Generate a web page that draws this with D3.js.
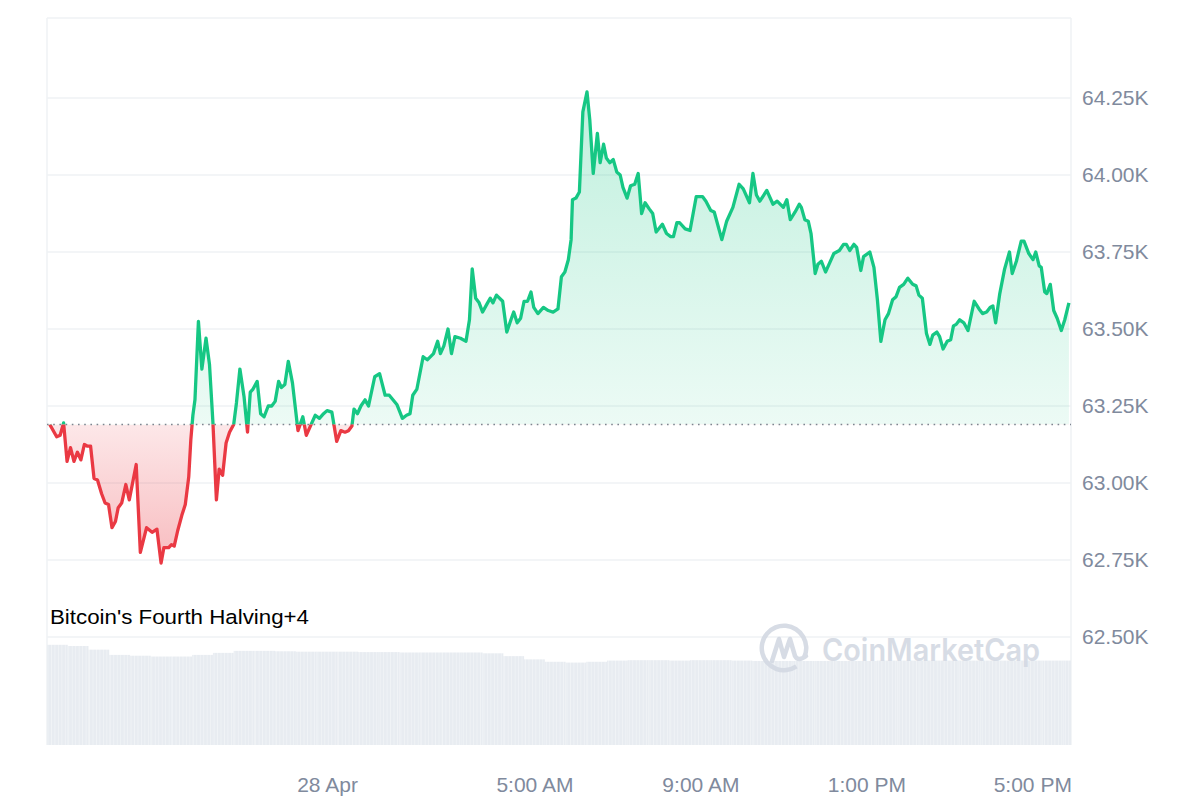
<!DOCTYPE html>
<html>
<head>
<meta charset="utf-8">
<script src="https://cdn.jsdelivr.net/npm/d3@7"></script>
<style>
  html, body { margin: 0; padding: 0; background: #fff; }
  svg { display: block; }
</style>
</head>
<body>
<svg id="chart" width="1200" height="800"></svg>
<script>
// ---------------- DATA ----------------
const times = [
  "27 17:19","27 17:29","27 17:34","27 17:39","27 17:44","27 17:49","27 17:54","27 17:59","27 18:04","27 18:09",
  "27 18:13","27 18:18","27 18:23","27 18:28","27 18:34","27 18:39","27 18:44","27 18:49","27 18:54","27 18:58",
  "27 19:03","27 19:09","27 19:14","27 19:24","27 19:30","27 19:39","27 19:47","27 19:54","27 20:00","27 20:04",
  "27 20:11","27 20:15","27 20:19","27 20:24","27 20:30","27 20:35","27 20:40","27 20:43","27 20:46","27 20:49",
  "27 20:54","27 20:59","27 21:05","27 21:10","27 21:15","27 21:20","27 21:24","27 21:29","27 21:34","27 21:39",
  "27 21:45","27 21:49","27 21:54","27 22:00","27 22:05","27 22:09","27 22:13","27 22:19","27 22:24","27 22:29",
  "27 22:35","27 22:40","27 22:45","27 22:50","27 22:54","27 22:59","27 23:04","27 23:10","27 23:18","27 23:25",
  "27 23:30","27 23:35","27 23:43","27 23:49","27 23:55",
  "28 00:00","28 00:07","28 00:14","28 00:20","28 00:26","28 00:31","28 00:36","28 00:39","28 00:44","28 00:49",
  "28 00:55","28 01:00","28 01:09","28 01:16","28 01:24","28 01:30","28 01:41","28 01:49","28 01:55","28 02:00",
  "28 02:04","28 02:10","28 02:19","28 02:25","28 02:34","28 02:40","28 02:44","28 02:49","28 02:55","28 03:00",
  "28 03:05","28 03:13","28 03:21","28 03:26","28 03:30","28 03:35","28 03:40","28 03:45","28 03:51","28 03:56",
  "28 04:00","28 04:05","28 04:14","28 04:20","28 04:26","28 04:30","28 04:35","28 04:40","28 04:45","28 04:50",
  "28 04:55","28 04:59","28 05:05","28 05:13","28 05:20","28 05:27","28 05:34","28 05:39","28 05:44","28 05:49",
  "28 05:53","28 05:55","28 06:00","28 06:05","28 06:10","28 06:16","28 06:20","28 06:25","28 06:31","28 06:35",
  "28 06:40","28 06:44","28 06:49","28 06:54","28 06:59","28 07:04","28 07:08","28 07:14","28 07:19","28 07:25",
  "28 07:30","28 07:35","28 07:40","28 07:46","28 07:51","28 07:56","28 08:05","28 08:11","28 08:17","28 08:21",
  "28 08:26","28 08:30","28 08:38","28 08:45","28 08:54","28 09:03","28 09:08","28 09:15","28 09:20","28 09:31",
  "28 09:38","28 09:47","28 09:56","28 10:02","28 10:11","28 10:16","28 10:21","28 10:26","28 10:36","28 10:45",
  "28 10:51","28 11:00","28 11:05","28 11:10","28 11:17","28 11:23","28 11:26","28 11:31","28 11:36","28 11:40",
  "28 11:46","28 11:50","28 11:55","28 12:01","28 12:06","28 12:13","28 12:21","28 12:27","28 12:31","28 12:36",
  "28 12:42","28 12:46","28 12:52","28 12:56","28 13:05","28 13:11","28 13:16","28 13:21","28 13:27","28 13:32",
  "28 13:38","28 13:43","28 13:48","28 13:54","28 14:00","28 14:07","28 14:12","28 14:16","28 14:21","28 14:27",
  "28 14:32","28 14:36","28 14:42","28 14:46","28 14:51","28 14:57","28 15:02","28 15:06","28 15:10","28 15:15",
  "28 15:21","28 15:27","28 15:36","28 15:43","28 15:48","28 15:54","28 15:59","28 16:03","28 16:07","28 16:13",
  "28 16:20","28 16:27","28 16:31","28 16:37","28 16:44","28 16:48","28 16:55","28 17:01","28 17:05","28 17:10",
  "28 17:13","28 17:18","28 17:21","28 17:26","28 17:31","28 17:36","28 17:42","28 17:47","28 17:53"
];
const prices = [
  63190,63150,63155,63195,63070,63115,63070,63100,63075,63125,
  63120,63120,63015,63010,62965,62935,62930,62855,62875,62920,
  62935,62995,62945,63060,62775,62855,62840,62850,62740,62790,
  62790,62800,62795,62845,62895,62930,63020,63140,63220,63270,
  63525,63370,63470,63385,63195,62945,63045,63025,63130,63165,
  63190,63260,63370,63280,63165,63295,63305,63330,63225,63215,
  63250,63250,63265,63330,63310,63320,63395,63325,63170,63215,
  63155,63180,63220,63210,63225,
  63235,63230,63135,63170,63165,63170,63185,63240,63225,63250,
  63270,63250,63345,63355,63285,63285,63255,63210,63220,63225,
  63285,63305,63410,63400,63420,63460,63420,63445,63500,63420,
  63475,63470,63460,63530,63695,63600,63585,63555,63580,63600,
  63585,63610,63590,63490,63530,63555,63520,63535,63590,63590,
  63620,63570,63550,63570,63560,63555,63565,63670,63685,63725,
  63790,63920,63925,63945,64205,64270,64180,64005,64135,64040,
  64100,64055,64040,64050,64010,64000,63960,63925,63965,63970,
  64005,63875,63910,63890,63875,63815,63840,63810,63800,63800,
  63845,63845,63825,63820,63930,63930,63915,63885,63880,63790,
  63850,63895,63970,63955,63910,64005,63935,63915,63950,63905,
  63915,63895,63920,63855,63880,63905,63895,63855,63850,63810,
  63680,63710,63720,63685,63710,63745,63755,63775,63775,63755,
  63775,63765,63690,63735,63750,63700,63595,63460,63530,63550,
  63595,63605,63635,63645,63665,63645,63640,63610,63600,63485,
  63450,63480,63490,63475,63435,63460,63465,63510,63515,63530,
  63520,63495,63590,63565,63550,63555,63570,63575,63520,63615,
  63695,63750,63680,63720,63785,63785,63745,63725,63750,63705,
  63700,63620,63615,63645,63560,63535,63495,63530,63585
];

// 24h volume (USD bn), half-hourly
const volTimes = [
  "27 17:15","27 17:45","27 18:15","27 18:45","27 19:15","27 19:45","27 20:15","27 20:45","27 21:15","27 21:45",
  "27 22:15","27 22:45","27 23:15","27 23:45","28 00:15","28 00:45","28 01:15","28 01:45","28 02:15","28 02:45",
  "28 03:15","28 03:45","28 04:15","28 04:45","28 05:15","28 05:45","28 06:15","28 06:45","28 07:15","28 07:45",
  "28 08:15","28 08:45","28 09:15","28 09:45","28 10:15","28 10:45","28 11:15","28 11:45","28 12:15","28 12:45",
  "28 13:15","28 13:45","28 14:15","28 14:45","28 15:15","28 15:45","28 16:15","28 16:45","28 17:15","28 17:45"
];
const volumes = [
  24.8,24.5,23.6,22.3,22.1,21.9,21.9,22.3,22.8,23.3,
  23.3,23.2,23.1,23.1,23.1,23.0,23.0,22.9,22.9,22.9,
  22.9,22.7,22.0,21.2,20.6,20.4,20.6,20.9,21.0,21.0,
  20.9,21.0,21.0,20.9,20.8,20.8,20.8,20.8,20.8,20.8,
  20.9,20.9,20.9,20.9,20.9,20.9,20.9,20.9,20.9,20.9
];

const yTicks = [62500, 62750, 63000, 63250, 63500, 63750, 64000, 64250];
const xTickTimes = ["28 00:00", "28 05:00", "28 09:00", "28 13:00", "28 17:00"];
const xTickLabels = ["28 Apr", "5:00 AM", "9:00 AM", "1:00 PM", "5:00 PM"];
const xDomain = ["27 17:15", "28 17:56"];
const annotation = "Bitcoin's Fourth Halving+4";
const watermark = "CoinMarketCap";

// ---------------- CHART ----------------
const parse = d3.timeParse("%d %H:%M");
const data = times.map((t, i) => ({ t: parse(t), p: prices[i] }));
const vol = volTimes.map((t, i) => ({ t: parse(t), v: volumes[i] }));
const baseline = prices[0];

const L = 47, R = 1071, T = 18, B = 745;
const x = d3.scaleTime().domain(xDomain.map(parse)).range([L, R]);
const y = d3.scaleLinear().domain([62500, 64250]).range([637, 98]);
const yv = d3.scaleLinear().domain([0, 25]).range([B, 644]);
const yb = y(baseline);
const FONT = "'Liberation Sans', Arial, sans-serif";

const svg = d3.select("#chart");
const defs = svg.append("defs");

const gGreen = defs.append("linearGradient").attr("id", "gGreen")
  .attr("gradientUnits", "userSpaceOnUse").attr("x1", 0).attr("x2", 0)
  .attr("y1", y(d3.max(prices))).attr("y2", yb);
gGreen.append("stop").attr("offset", 0).attr("stop-color", "#16c784").attr("stop-opacity", 0.27);
gGreen.append("stop").attr("offset", 1).attr("stop-color", "#16c784").attr("stop-opacity", 0.08);

const gRed = defs.append("linearGradient").attr("id", "gRed")
  .attr("gradientUnits", "userSpaceOnUse").attr("x1", 0).attr("x2", 0)
  .attr("y1", yb).attr("y2", y(d3.min(prices)));
gRed.append("stop").attr("offset", 0).attr("stop-color", "#ea3943").attr("stop-opacity", 0.12);
gRed.append("stop").attr("offset", 1).attr("stop-color", "#ea3943").attr("stop-opacity", 0.34);

defs.append("clipPath").attr("id", "clipUp").append("rect")
  .attr("x", 0).attr("y", 0).attr("width", 1200).attr("height", yb);
defs.append("clipPath").attr("id", "clipDown").append("rect")
  .attr("x", 0).attr("y", yb).attr("width", 1200).attr("height", 800 - yb);
defs.append("clipPath").attr("id", "clipPlot").append("rect")
  .attr("x", L).attr("y", T).attr("width", R - L).attr("height", B - T);

const pat = defs.append("pattern").attr("id", "volPat").attr("patternUnits", "userSpaceOnUse")
  .attr("width", 3.46).attr("height", 10);
pat.append("rect").attr("width", 3.46).attr("height", 10).attr("fill", "#e8ecf1");
pat.append("rect").attr("x", 2.6).attr("width", 0.86).attr("height", 10).attr("fill", "#f0f3f6");

// frame
svg.append("line").attr("x1", L).attr("x2", R).attr("y1", T).attr("y2", T).attr("stroke", "#eff2f5").attr("stroke-width", 1.5);
svg.append("line").attr("x1", L).attr("x2", L).attr("y1", T).attr("y2", B).attr("stroke", "#eff2f5").attr("stroke-width", 1.5);
svg.append("line").attr("x1", R).attr("x2", R).attr("y1", T).attr("y2", B).attr("stroke", "#eff2f5").attr("stroke-width", 1.5);

// gridlines
svg.append("g").selectAll("line").data(yTicks).join("line")
  .attr("x1", L).attr("x2", R).attr("y1", d => y(d)).attr("y2", d => y(d))
  .attr("stroke", "#eff2f5").attr("stroke-width", 1.5);

// volume bars
svg.append("g").attr("clip-path", "url(#clipPlot)").selectAll("rect").data(vol).join("rect")
  .attr("x", d => x(d.t))
  .attr("width", (d, i) => (i < vol.length - 1 ? x(vol[i + 1].t) : R) - x(d.t))
  .attr("y", d => yv(d.v)).attr("height", d => B - yv(d.v))
  .attr("fill", "url(#volPat)");

// watermark
const wm = svg.append("g").attr("opacity", 0.9);
wm.append("path")
  .attr("d", d3.arc()({ innerRadius: 20, outerRadius: 24.5, startAngle: 2.55, endAngle: 2.55 + 2 * Math.PI - 0.55 }))
  .attr("transform", "translate(784,648)").attr("fill", "#d3d9e3");
wm.append("path")
  .attr("d", "M772,661 L779,639 L784,657 L790,639 L795,656 Q798,662 806,656")
  .attr("fill", "none").attr("stroke", "#d3d9e3").attr("stroke-width", 4.5)
  .attr("stroke-linejoin", "round").attr("stroke-linecap", "round");
wm.append("text").attr("x", 822).attr("y", 661).text(watermark)
  .attr("font-family", "Inter, 'Open Sans', sans-serif").attr("font-weight", 600)
  .attr("font-size", 31).attr("fill", "#d3d9e3")
  .attr("textLength", 218).attr("lengthAdjust", "spacingAndGlyphs");

// areas
const area = d3.area().x(d => x(d.t)).y0(yb).y1(d => y(d.p));
const line = d3.line().x(d => x(d.t)).y(d => y(d.p));

svg.append("path").datum(data).attr("d", area).attr("fill", "url(#gGreen)").attr("clip-path", "url(#clipUp)");
svg.append("path").datum(data).attr("d", area).attr("fill", "url(#gRed)").attr("clip-path", "url(#clipDown)");

// baseline dotted
svg.append("line").attr("x1", L).attr("x2", R).attr("y1", yb).attr("y2", yb)
  .attr("stroke", "#7d8590").attr("stroke-width", 1.6).attr("stroke-dasharray", "1.6,4.6");

// lines
svg.append("path").datum(data).attr("d", line).attr("fill", "none")
  .attr("stroke", "#16c784").attr("stroke-width", 3.3).attr("stroke-linejoin", "round")
  .attr("clip-path", "url(#clipUp)");
svg.append("path").datum(data).attr("d", line).attr("fill", "none")
  .attr("stroke", "#ea3943").attr("stroke-width", 3.3).attr("stroke-linejoin", "round")
  .attr("clip-path", "url(#clipDown)");

// annotation
svg.append("text").attr("x", 50).attr("y", 624).text(annotation)
  .attr("font-family", FONT).attr("font-size", 20.5).attr("fill", "#000")
  .attr("textLength", 259).attr("lengthAdjust", "spacingAndGlyphs");

// y axis (right)
const yAxis = svg.append("g").attr("transform", `translate(${R},0)`)
  .call(d3.axisRight(y).tickValues(yTicks).tickSize(0).tickPadding(11)
    .tickFormat(d => (d / 1000).toFixed(2) + "K"));
yAxis.select(".domain").remove();
yAxis.selectAll("text").attr("font-family", FONT)
  .attr("font-size", 21).attr("fill", "#808a9d");

// x axis
const xAxis = svg.append("g").attr("transform", `translate(0,771)`)
  .call(d3.axisBottom(x).tickValues(xTickTimes.map(parse)).tickSize(0).tickPadding(6)
    .tickFormat((d, i) => xTickLabels[i]));
xAxis.select(".domain").remove();
xAxis.selectAll("text").attr("font-family", FONT)
  .attr("font-size", 21).attr("fill", "#808a9d");
</script>
</body>
</html>
